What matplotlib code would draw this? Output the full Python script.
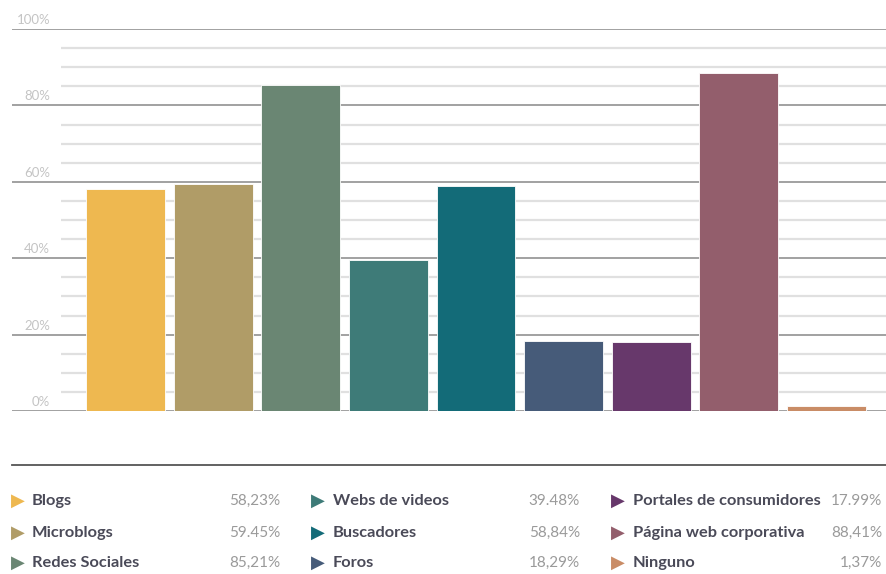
import matplotlib
matplotlib.use('Agg')
import matplotlib.pyplot as plt
from matplotlib.lines import Line2D
import numpy as np

categories = ['Blogs', 'Microblogs', 'Redes Sociales', 'Webs de videos', 'Buscadores',
              'Foros', 'Portales de consumidores', 'Página web corporativa', 'Ninguno']
values = [58.23, 59.45, 85.21, 39.48, 58.84, 18.29, 17.99, 88.41, 1.37]
value_labels = ['58,23%', '59.45%', '85,21%', '39.48%', '58,84%', '18,29%', '17.99%', '88,41%', '1,37%']
colors = ['#eeb850', '#b09c67', '#6a8673', '#3e7b78', '#136b78',
          '#465b79', '#67386b', '#935e6c', '#c98c66']
major_ticks = [0, 20, 40, 60, 80, 100]
minor_ticks = [v for v in range(5, 100, 5) if v % 20]

W, H = 887, 574
fig = plt.figure(figsize=(W / 100, H / 100), dpi=100)

# chart area: 0% at y=411px, 100% at y=29px
ax = fig.add_axes([12 / W, 1 - 411 / H, (887 - 12) / W, (411 - 29) / H])
ax.set_ylim(0, 100)
step = 87.625
ax.set_xlim(-(125.5 - 12) / step, (887 - 125.5) / step)
ax.axis('off')

tr = ax.get_yaxis_transform()
x0 = (61 - 12) / (887 - 12)
ax.hlines(minor_ticks, x0, 1, transform=tr, colors='#e0e0e0', lw=1.6, zorder=0)
ax.hlines(major_ticks, 0, 1, transform=tr, colors='#9a9a9a', lw=1.3, zorder=1)
for t in major_ticks:
    ax.text(38 / (887 - 12), t + 0.8, f'{t}%', transform=tr, ha='right', va='bottom',
            fontsize=9.5, color='#c4c4c4', family='Lato')

x = np.arange(len(values))
ax.bar(x, values, width=0.9, color=colors, edgecolor='white', linewidth=0.6, zorder=2)

# separator line above legend
fig.add_artist(Line2D([12 / W, 1], [1 - 465 / H] * 2, color='#555555', lw=1.3))

# legend block, three columns of three
col_tri = [18, 318, 618]
col_lab = [32, 333, 633]
col_val = [280, 580, 882]
rows = [501, 533, 563]
for i, (cat, vl, c) in enumerate(zip(categories, value_labels, colors)):
    col, row = divmod(i, 3)
    y = 1 - rows[row] / H
    fig.text(col_tri[col] / W, y, '\u25B6', color=c, fontsize=13, ha='center', va='center',
             family='DejaVu Sans')
    fig.text(col_lab[col] / W, y, cat, color='#4a4a58', fontsize=11.8, fontweight='bold',
             ha='left', va='center', family='Lato')
    fig.text(col_val[col] / W, y, vl, color='#9a9a9a', fontsize=11,
             ha='right', va='center', family='Lato')

fig.savefig('out.png', dpi=100)
